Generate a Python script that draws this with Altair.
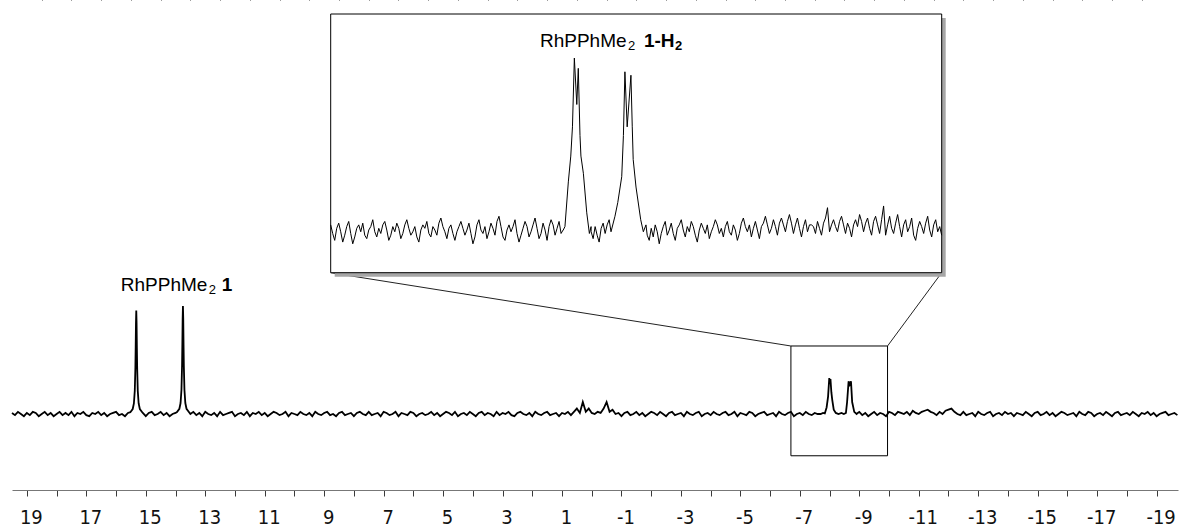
import altair as alt
import numpy as np
import pandas as pd

# ---------------- main spectrum (ppm grid 19.5 -> -19.7, step 0.1) ----------------
MAIN_START, MAIN_STEP = 19.5, 0.1
main_noise = [
    1, -1, 2, 0, -2, 1, -1, 2, 1, -2, 0, 2, -1, 1, -2, 0, 2, -1, 1, -1,
    2, -2, 1, 0, 2, -1, -2, 1, 0, 2, -1, 1, -2, 0, 1, 2, -1, 0, -2, 1,
    -1, 2, 0, 0, 1, -2, 1, 2, -1, 0, 2, -1, 1, -2, 0, 1, 0, 0, 0, 0,
    0, 2, -1, 1, -2, 2, 0, -1, 1, -2, 2, -1, 0, 1, 2, -2, 0, 1, -1, 2,
    -2, 1, 0, 2, -1, 1, -2, 0, 2, 1, -1, 0, 2, -2, 1, 0, -1, 2, 0, -1,
    1, -2, 2, 0, -1, 1, 2, -1, 0, -2, 1, 2, -1, 0, 1, -2, 1, 2, 0, -1,
    2, -1, 0, 1, -2, 2, 1, -1, 0, 2, -2, 1, 0, -1, 2, 1, -2, 0, 1, -1,
    0, 2, -1, 1, -2, 0, 2, 1, -1, 2, -2, 0, 1, -1, 2, 0, -2, 1, 2, -1,
    1, 0, -2, 2, -1, 1, 0, 2, -1, -2, 1, 2, 0, -1, 1, -2, 2, 0, -1, 1,
    2, -1, 0, 1, -2, 1, 0, 2, -1, 2, 5, 1, 11, 2, 5, 1, 0, 2, 1, 5,
    11, 2, 4, 0, 1, -2, 1, 2, -1, 0, 2, -1, 1, -2, 0, 2, 1, -1, 2, 0,
    -2, 1, 2, -1, 0, 1, -2, 2, 0, -1, 1, 2, -2, 0, 1, -1, 2, 0, -1, 1,
    2, -1, 0, 2, -2, 1, 0, -1, 2, 1, -2, 0, 1, 2, -1, 0, 1, -2, 2, 0,
    -1, 1, 2, -2, 0, 1, -1, 2, 0, -1, 1, 0, 0, 0, 0, 0, 0, 0, 0, 0,
    0, 0, 0, 0, 0, 2, -1, 1, -2, 0, 2, -1, 1, 0, -2, 2, 1, -1, 2, 1,
    0, 2, -1, 3, 1, 0, 2, 3, 4, 2, 1, -1, 2, 0, 3, 4, 5, 2, 0, -1,
    2, -1, 0, 1, -2, 2, 0, -1, 1, 2, -2, 0, 1, -1, 2, 0, 1, -2, 1, 0,
    -1, 2, 0, -2, 1, 2, -1, 0, 2, -1, 1, -2, 0, 2, 1, -1, 0, 1, -2, 2,
    0, -1, 2, 1, -2, 0, 1, -1, 2, 0, -2, 1, 2, -1, 0, 1, -1, 2, 0, -2,
    1, 0, 2, -1, 1, -2, 0, 1, 2, -1, 0, 1, -1,
]

# peak 1 (RhPPhMe2 1), ~15.32 ppm
peakA_ppm = [15.52, 15.44, 15.40, 15.37, 15.35, 15.34, 15.33, 15.32, 15.31, 15.30, 15.29, 15.27, 15.24, 15.20, 15.12]
peakA_int = [1.7, 4.6, 9.7, 21.4, 42.5, 61.3, 83.6, 95, 83.6, 61.3, 42.5, 21.4, 9.7, 4.6, 1.7]
# peak 2, ~13.75 ppm
peakB_ppm = [13.95, 13.87, 13.83, 13.80, 13.78, 13.77, 13.76, 13.75, 13.74, 13.73, 13.72, 13.70, 13.67, 13.63, 13.55]
peakB_int = [1.8, 4.8, 10.1, 22.3, 44.3, 63.9, 87.1, 99, 87.1, 63.9, 44.3, 22.3, 10.1, 4.8, 1.8]
# hydride region (1-H2), -7.7 .. -8.95 ppm
peakCD_ppm = [-7.70, -7.78, -7.84, -7.90, -7.95, -7.99, -8.01, -8.03, -8.06, -8.09, -8.14, -8.21, -8.30,
              -8.40, -8.48, -8.55, -8.59, -8.64, -8.68, -8.72, -8.76, -8.83, -8.91, -8.95]
peakCD_int = [0, 1, 0.5, 6, 16, 33, 29, 32, 20, 13, 4, 1, 0,
              1, 0, 1, 11, 30, 27, 30, 11, 2, 0, 1]

# ---------------- inset spectrum (expanded hydride region) ----------------
INSET_LEFT, INSET_RIGHT = -6.7, -9.95
inset_noise = [
    3, -2, -6, 1, 4, -1, -7, -3, 2, 5, -2, -8, -4, 1, 3, -1, 4, -3, -5, 0,
    2, 6, -1, -4, 1, -2, 3, 5, 0, -6, -3, 2, -1, 4, 1, -5, -2, 3, 6, 1,
    -3, -1, 2, -4, -7, 0, 3, 1, 5, -2, -4, 2, 0, -3, 4, 7, 2, -1, -5, 1,
    3, -2, -6, -1, 2, 5, 1, -3, 0, 4, -2, -8, -4, 3, 6, 0, -2, 2, -5, -1,
    4, 1, -3, 5, 8, 2, -4, -6, 0, 3, -1, 2, 6, -2, -7, -3, 1, 5, 2, -4,
    -1, 3, 7, 1, -5, -2, 4, 0, -6, 2, 6, 3, -3, 1, 5, -2, 0, 0, 0, 0,
    0, 0, 0, 0, 0, 0, 0, 0, 0, 0, -1, -5, 2, -3, -7, 1, 4, -2, 3, 6,
    0, 0, 0, 0, 0, 0, 0, 0, 0, 0, 0, 0, 0, 0, 0, 0, 0, 0, -3, -6,
    1, -4, 3, -1, -8, -2, 2, 5, -3, 0, 4, -2, -6, 1, 3, 6, 0, -4, 2, -1,
    5, 2, -3, -7, 0, 4, 1, -2, 3, -5, -1, 2, 6, 3, -2, 1, -4, 2, 5, -1,
    -3, 3, 0, -6, -2, 4, 7, 2, -1, 3, -4, 1, 5, 0, -5, 2, 4, 8, 3, -2,
    1, 6, 2, -3, 4, 7, 3, -1, 5, 9, 4, -2, 3, 7, 1, -4, 2, 6, -1, 3,
    3, 2, -2, 5, 1, -3, 4, 7, 13, -1, 3, 6, 2, -1, 5, 8, 3, -2, 4, 1,
    -4, 3, 6, 2, 9, 5, -1, 4, 7, 1, -3, 5, 8, 3, -2, 6, 14, -3, 3, 8,
    1, -2, 4, 9, 2, -4, 3, 6, -1, 2, 7, -3, -6, 1, 5, 2, -2, 4, 8, 0,
    -4, 3, 6, -1, 2, -3,
]
inset1_ppm = [-7.937, -7.946, -7.964, -7.977, -7.986, -7.996, -8.009, -8.017, -8.026, -8.031, -8.044, -8.062, -8.076, -8.085]
inset1_int = [0, 2, 28, 43, 60, 100, 73, 94, 55, 43, 33, 10, -2, 2]
inset2_ppm = [-8.191, -8.212, -8.227, -8.248, -8.257, -8.265, -8.277, -8.297, -8.304, -8.309, -8.324, -8.349, -8.363, -8.377]
inset2_int = [-1, 8, 16, 31, 55, 92, 60, 90, 60, 41, 25, 6, -1, 3]

# zoom box on the main spectrum and inset frame extents
box_ppm = [-6.7, -9.95]
box_int = [-38.3, 62.4]
inset_int_extent = [-24.8, 125.6]

# layout (plot-area pixels) of the inset panel
INSET_X_RANGE = [318.7, 929.7]
INSET_Y_RANGE = [272.7, 14.0]

major_ticks = list(range(19, -20, -1))
minor_ticks = [v + 0.5 for v in range(18, -20, -1)]


def build(grid, segments):
    df = pd.DataFrame({"ppm": grid[0], "int": grid[1]})
    keep = np.ones(len(df), dtype=bool)
    parts = []
    for p, v in segments:
        lo, hi = min(p), max(p)
        keep &= ~((df["ppm"] > lo - 1e-9) & (df["ppm"] < hi + 1e-9))
        parts.append(pd.DataFrame({"ppm": p, "int": v}))
    out = pd.concat([df[keep]] + parts, ignore_index=True)
    out = out.sort_values("ppm", ascending=False).reset_index(drop=True)
    out["idx"] = np.arange(len(out))
    return out


main_grid = np.round(MAIN_START - MAIN_STEP * np.arange(len(main_noise)), 3)
main_df = build((main_grid, main_noise),
                [(peakA_ppm, peakA_int), (peakB_ppm, peakB_int), (peakCD_ppm, peakCD_int)])
inset_grid = np.linspace(INSET_LEFT, INSET_RIGHT, len(inset_noise))
inset_df = build((inset_grid, inset_noise), [(inset1_ppm, inset1_int), (inset2_ppm, inset2_int)])

W, H = 1166, 490
xs = alt.Scale(domain=[-19.72, 19.5], reverse=True, nice=False, zero=False)
ys = alt.Scale(domain=[-69.7, 379.8], nice=False, zero=False)
ixs = alt.Scale(domain=[INSET_RIGHT, INSET_LEFT], reverse=True, nice=False, zero=False, range=INSET_X_RANGE)
iys = alt.Scale(domain=inset_int_extent, nice=False, zero=False, range=INSET_Y_RANGE)

AX_FONT = "DejaVu Sans Condensed"
major_axis = alt.Axis(values=major_ticks, labelExpr="datum.value % 2 != 0 ? '' + datum.value : ''",
                      tickSize=6, tickColor="#3a3a3a", domainColor="#777777", domainWidth=1,
                      labelFont=AX_FONT, labelFontSize=20, labelColor="#111111", labelPadding=11,
                      labelOffset=4, labelFlush=False, labelOverlap=False, grid=False, title=None)
minor_axis = alt.Axis(values=minor_ticks, labels=False, domain=False, tickSize=3, tickColor="#3a3a3a",
                      grid=False, title=None)

main_line = alt.Chart(main_df).mark_line(color="black", strokeWidth=1.8).encode(
    x=alt.X("ppm:Q", scale=xs, axis=major_axis),
    y=alt.Y("int:Q", scale=ys, axis=None),
    order="idx:Q",
)

box_df = pd.DataFrame({"x1": [box_ppm[0]], "x2": [box_ppm[1]], "y1": [box_int[0]], "y2": [box_int[1]]})
box = alt.Chart(box_df).mark_rect(fillOpacity=0, stroke="black", strokeWidth=1).encode(
    x=alt.X("x1:Q", scale=xs, axis=minor_axis), x2="x2:Q",
    y=alt.Y("y1:Q", scale=ys, axis=None), y2="y2:Q",
)

conn_df = pd.DataFrame({"x": box_ppm, "y": [box_int[1], box_int[1]]})
conn_left = alt.Chart(conn_df.iloc[[0]]).mark_rule(color="#222222", strokeWidth=1).encode(
    x=alt.X("x:Q", scale=xs, axis=None), y=alt.Y("y:Q", scale=ys, axis=None),
    x2=alt.value(INSET_X_RANGE[0]), y2=alt.value(INSET_Y_RANGE[0]),
)
conn_right = alt.Chart(conn_df.iloc[[1]]).mark_rule(color="#222222", strokeWidth=1).encode(
    x=alt.X("x:Q", scale=xs, axis=None), y=alt.Y("y:Q", scale=ys, axis=None),
    x2=alt.value(INSET_X_RANGE[1]), y2=alt.value(INSET_Y_RANGE[0]),
)

LBL_FONT = "Liberation Sans"
main_lbl_pos = pd.DataFrame({"x": [15.84], "y": [113.1]})


def txt(df, text, scx, scy, size=19, bold=False, dx=0, dy=0):
    return alt.Chart(df).mark_text(text=text, align="left", baseline="alphabetic", font=LBL_FONT,
                                   fontSize=size, fontWeight="bold" if bold else "normal",
                                   color="black", dx=dx, dy=dy).encode(
        x=alt.X("x:Q", scale=scx, axis=None), y=alt.Y("y:Q", scale=scy, axis=None))


main_lbls = [
    txt(main_lbl_pos, "RhPPhMe", xs, ys),
    txt(main_lbl_pos, "2", xs, ys, size=13, dx=88, dy=3),
    txt(main_lbl_pos, "1", xs, ys, bold=True, dx=101),
]

main_layer = alt.layer(main_line, box, conn_left, conn_right, *main_lbls).resolve_axis(x="independent")

frame_df = pd.DataFrame({"x1": [INSET_LEFT], "x2": [INSET_RIGHT],
                         "y1": [inset_int_extent[0]], "y2": [inset_int_extent[1]]})
shadow = alt.Chart(frame_df).mark_rect(fill="#a6a6a6", xOffset=4, x2Offset=4, yOffset=4, y2Offset=4).encode(
    x=alt.X("x1:Q", scale=ixs, axis=None), x2="x2:Q",
    y=alt.Y("y1:Q", scale=iys, axis=None), y2="y2:Q",
)
frame = alt.Chart(frame_df).mark_rect(fill="white", stroke="black", strokeWidth=1).encode(
    x=alt.X("x1:Q", scale=ixs, axis=None), x2="x2:Q",
    y=alt.Y("y1:Q", scale=iys, axis=None), y2="y2:Q",
)
inset_line = alt.Chart(inset_df).mark_line(color="black", strokeWidth=1.0).encode(
    x=alt.X("ppm:Q", scale=ixs, axis=None),
    y=alt.Y("int:Q", scale=iys, axis=None),
    order="idx:Q",
)
inset_lbl_pos = pd.DataFrame({"x": [-7.813], "y": [106.6]})
inset_lbls = [
    txt(inset_lbl_pos, "RhPPhMe", ixs, iys),
    txt(inset_lbl_pos, "2", ixs, iys, size=13, dx=88, dy=3),
    txt(inset_lbl_pos, "1-H", ixs, iys, bold=True, dx=104),
    txt(inset_lbl_pos, "2", ixs, iys, size=13, bold=True, dx=135, dy=3),
]
inset_layer = alt.layer(shadow, frame, inset_line, *inset_lbls)

chart = alt.layer(main_layer, inset_layer).resolve_scale(x="independent", y="independent").properties(
    width=W, height=H,
    padding={"left": 12, "top": 0, "right": 2, "bottom": 37},
    autosize=alt.AutoSizeParams(type="none"),
    background="white",
).configure_view(stroke=None)

chart.save("out.html", embed_options={"renderer": "svg", "actions": False})
